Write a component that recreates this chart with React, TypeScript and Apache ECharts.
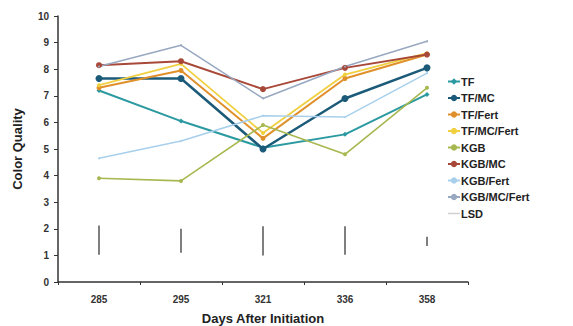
import React, { useEffect, useRef } from "react";
import * as echarts from "echarts";

const categories = ["285", "295", "321", "336", "358"];
const seriesNames = ["TF", "TF/MC", "TF/Fert", "TF/MC/Fert", "KGB", "KGB/MC", "KGB/Fert", "KGB/MC/Fert"];
const tf = [7.2, 6.05, 5.05, 5.55, 7.05];
const tfMc = [7.65, 7.65, 5.0, 6.9, 8.05];
const tfFert = [7.3, 7.95, 5.4, 7.65, 8.55];
const tfMcFert = [7.4, 8.2, 5.6, 7.8, 8.6];
const kgb = [3.9, 3.8, 5.9, 4.8, 7.3];
const kgbMc = [8.15, 8.3, 7.25, 8.05, 8.55];
const kgbFert = [4.65, 5.3, 6.25, 6.2, 7.85];
const kgbMcFert = [8.1, 8.9, 6.9, 8.1, 9.05];
const lsdLow = [1.02, 1.1, 1.0, 1.02, 1.35];
const lsdHigh = [2.12, 2.0, 2.1, 2.1, 1.7];

const colors = ["#2b9aa0", "#1b5a78", "#e0902a", "#f0d040", "#a8b850", "#a84838", "#a8d0ec", "#98a8c0"];
const symbols = ["diamond", "circle", "circle", "circle", "circle", "circle", "circle", "circle"];
const symbolSizes = [5, 7, 5, 4, 4, 6, 2, 2];
const lineWidths = [2, 2.5, 2, 1.8, 1.6, 2, 1.5, 1.5];

export default function App() {
  const ref = useRef<HTMLDivElement>(null);
  useEffect(() => {
    if (!ref.current) return;
    const chart = echarts.init(ref.current, null, { renderer: "svg" });
    const allData = [tf, tfMc, tfFert, tfMcFert, kgb, kgbMc, kgbFert, kgbMcFert];
    const lineSeries = seriesNames.map((name, i) => ({
      name,
      type: "line",
      data: allData[i],
      symbol: symbols[i],
      symbolSize: symbolSizes[i],
      itemStyle: { color: colors[i] },
      lineStyle: { color: colors[i], width: lineWidths[i] },
      z: 3,
    }));
    const lsdData = categories.map((_, i) => [i, lsdLow[i], lsdHigh[i]]);
    chart.setOption({
      animation: false,
      backgroundColor: "#fff",
      grid: { left: 58, right: 105, top: 16, bottom: 44, outerBoundsMode: "none" },
      legend: {
        orient: "vertical",
        left: 442,
        top: 71,
        itemGap: 5.5,
        itemWidth: 12,
        itemHeight: 8,
        textStyle: { fontFamily: "Liberation Sans", fontWeight: "bold", fontSize: 11, color: "#222", padding: [0, 0, 0, -4] },
        data: [
          ...seriesNames,
          { name: "LSD", icon: "path://M0,0 L12,0 L12,1.5 L0,1.5 Z", itemStyle: { color: "#d0d0d0" } },
        ],
      },
      xAxis: {
        type: "category",
        data: categories,
        name: "Days After Initiation",
        nameLocation: "middle",
        nameGap: 30,
        nameTextStyle: { fontFamily: "Liberation Sans", fontWeight: "bold", fontSize: 13, color: "#222" },
        axisLine: { lineStyle: { color: "#333", width: 1.5 } },
        axisTick: { show: true, length: 3, lineStyle: { color: "#333" } },
        axisLabel: { fontFamily: "Liberation Sans", fontWeight: "bold", fontSize: 10, color: "#333", margin: 12 },
      },
      yAxis: {
        type: "value",
        min: 0,
        max: 10,
        interval: 1,
        name: "Color Quality",
        nameLocation: "middle",
        nameGap: 34,
        nameTextStyle: { fontFamily: "Liberation Sans", fontWeight: "bold", fontSize: 13, color: "#222" },
        axisLine: { show: true, lineStyle: { color: "#333", width: 1.5 } },
        axisTick: { show: true, length: 4, lineStyle: { color: "#333" } },
        splitLine: { show: false },
        axisLabel: { fontFamily: "Liberation Sans", fontWeight: "bold", fontSize: 10, color: "#333", margin: 9 },
      },
      series: [
        ...lineSeries,
        {
          name: "LSD",
          type: "custom",
          itemStyle: { color: "#d0d0d0" },
          data: lsdData,
          renderItem: (params: any, api: any) => {
            const x = api.value(0);
            const p1 = api.coord([x, api.value(1)]);
            const p2 = api.coord([x, api.value(2)]);
            return {
              type: "line",
              shape: { x1: p1[0], y1: p1[1], x2: p2[0], y2: p2[1] },
              style: { stroke: "#555", lineWidth: 1.5 },
            };
          },
          z: 2,
        },
      ],
    });
    return () => chart.dispose();
  }, []);
  return <div ref={ref} style={{ width: 573, height: 326, position: "absolute", left: 0, top: 0 }} />;
}
